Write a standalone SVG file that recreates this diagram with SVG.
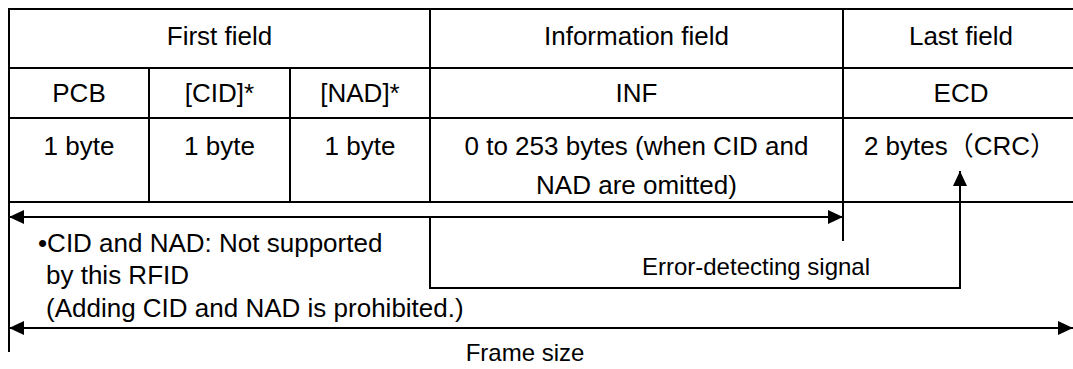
<svg xmlns="http://www.w3.org/2000/svg" width="1073" height="369" viewBox="0 0 1073 369">
<style>
  text { font-family: "Liberation Sans", Arial, "Noto Sans CJK JP", sans-serif; fill: #000; }
  .t { font-size: 26px; text-anchor: middle; }
  .n { font-size: 26px; }
  .s { font-size: 24px; text-anchor: middle; }
  .ln { stroke: #000; stroke-width: 2; fill: none; }
</style>
<defs>
  <marker id="ah" viewBox="0 0 15 14" refX="15" refY="7" markerWidth="15" markerHeight="14" markerUnits="userSpaceOnUse" orient="auto-start-reverse">
    <path d="M0,0 L15,7 L0,14 Z" fill="#000"/>
  </marker>
</defs>
<g id="table-grid">
  <line class="ln" x1="9" y1="9" x2="1073" y2="9"/>
  <line class="ln" x1="9" y1="68" x2="1073" y2="68"/>
  <line class="ln" x1="9" y1="118" x2="1073" y2="118"/>
  <line class="ln" x1="9" y1="202" x2="1073" y2="202"/>
  <line class="ln" x1="9" y1="8" x2="9" y2="352"/>
  <line class="ln" x1="149" y1="68" x2="149" y2="202"/>
  <line class="ln" x1="290" y1="68" x2="290" y2="202"/>
  <line class="ln" x1="430" y1="8" x2="430" y2="202"/>
  <line class="ln" x1="843" y1="8" x2="843" y2="241"/>
</g>
<g id="first-field"><text class="t" x="219.5" y="45">First field</text></g>
<g id="information-field"><text class="t" x="636.5" y="45">Information field</text></g>
<g id="last-field"><text class="t" x="961" y="45">Last field</text></g>
<g id="pcb"><text class="t" x="79" y="102">PCB</text><text class="t" x="79" y="155">1 byte</text></g>
<g id="cid"><text class="t" x="219.5" y="102">[CID]*</text><text class="t" x="219.5" y="155">1 byte</text></g>
<g id="nad"><text class="t" x="360" y="102">[NAD]*</text><text class="t" x="360" y="155">1 byte</text></g>
<g id="inf"><text class="t" x="636.5" y="102">INF</text><text class="t" x="636.5" y="155">0 to 253 bytes (when CID and</text><text class="t" x="636.5" y="194">NAD are omitted)</text></g>
<g id="ecd"><text class="t" x="961" y="102">ECD</text><text class="t" x="960" y="155">2 bytes（CRC）</text></g>
<g id="note">
  <text class="n" x="38" y="252">•CID and NAD: Not supported</text>
  <text class="n" x="46" y="284">by this RFID</text>
  <text class="n" x="46" y="317">(Adding CID and NAD is prohibited.)</text>
</g>
<g id="connectors">
  <line class="ln" x1="9" y1="217" x2="843" y2="217" marker-start="url(#ah)" marker-end="url(#ah)"/>
  <polyline class="ln" points="430,217 430,288 960,288 960,171" marker-end="url(#ah)"/>
  <line class="ln" x1="9" y1="328" x2="1073" y2="328" marker-start="url(#ah)" marker-end="url(#ah)"/>
</g>
<g id="labels">
  <text class="s" x="756" y="275">Error-detecting signal</text>
  <text class="s" x="525" y="361">Frame size</text>
</g>
</svg>
